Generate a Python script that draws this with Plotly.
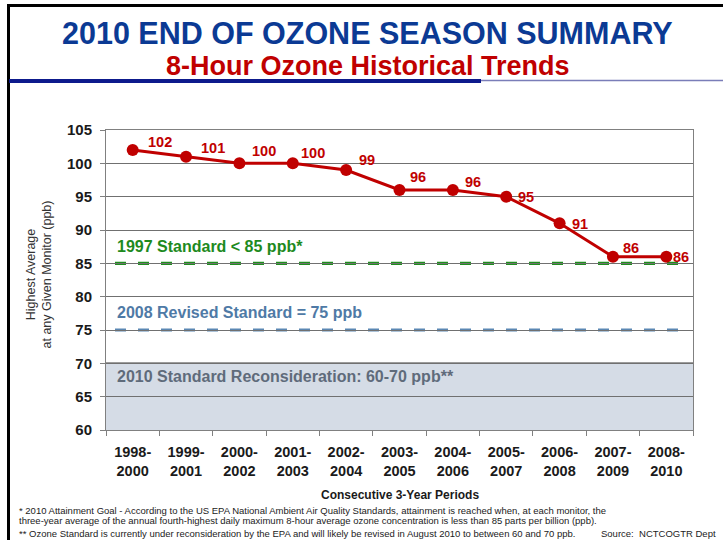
import plotly.graph_objects as go

# ---------------- data ----------------
periods = ["1998-<br>2000", "1999-<br>2001", "2000-<br>2002", "2001-<br>2003", "2002-<br>2004",
           "2003-<br>2005", "2004-<br>2006", "2005-<br>2007", "2006-<br>2008", "2007-<br>2009",
           "2008-<br>2010"]
ozone_ppb = [102, 101, 100, 100, 99, 96, 96, 95, 91, 86, 86]
y_ticks = [60, 65, 70, 75, 80, 85, 90, 95, 100, 105]
std_1997 = 85
std_2008 = 75
reconsider_low = 60
reconsider_high = 70

# ---------------- style / layout ----------------
W, H = 723, 540
L, R, T, B = 106, 30, 130, 110
PW, PH = W - L - R, H - T - B

def px(x):
    return (x - L) / PW

def py(y):
    return (H - B - y) / PH

RED = "#c00000"
FONT = "Liberation Sans, Arial, sans-serif"
NARROW = "Liberation Sans Narrow, Arial Narrow, Liberation Sans, sans-serif"

label_dx = [27, 27, 25, 20, 21, 18, 20, 20, 20, 18, 15]
label_dy = [8, 9, 12, 10, 10, 13, 8, 0, -1, 9, 0]

fig = go.Figure()
fig.add_trace(go.Scatter(
    x=periods, y=ozone_ppb, mode="lines+markers",
    line=dict(color=RED, width=3),
    marker=dict(color=RED, size=12),
    hoverinfo="x+y", showlegend=False,
))

shapes = []
# reconsideration band
shapes.append(dict(type="rect", xref="paper", yref="y", x0=0, x1=1,
                   y0=reconsider_low, y1=reconsider_high,
                   fillcolor="#d5dce6", line=dict(width=0), layer="below"))
shapes.append(dict(type="line", xref="paper", yref="y", x0=0, x1=1,
                   y0=reconsider_high, y1=reconsider_high,
                   line=dict(color="#3a3a3a", width=1.5), layer="between"))
# standards
shapes.append(dict(type="line", xref="paper", yref="y", x0=px(115), x1=px(686),
                   y0=std_1997, y1=std_1997,
                   line=dict(color="#1e8e1e", width=3.2, dash="11px,12px"), layer="between"))
shapes.append(dict(type="line", xref="paper", yref="y", x0=px(115), x1=px(686),
                   y0=std_2008, y1=std_2008,
                   line=dict(color="#5b87b3", width=3.2, dash="11px,12px"), layer="between"))
# slide frame
shapes.append(dict(type="line", xref="paper", yref="paper", x0=px(8), x1=px(724),
                   y0=py(5.5), y1=py(5.5), line=dict(color="black", width=3)))
shapes.append(dict(type="line", xref="paper", yref="paper", x0=px(8.5), x1=px(8.5),
                   y0=py(4), y1=py(541), line=dict(color="black", width=3)))
shapes.append(dict(type="line", xref="paper", yref="paper", x0=px(9), x1=px(481),
                   y0=py(81), y1=py(81), line=dict(color="#0d1a8c", width=4)))
shapes.append(dict(type="line", xref="paper", yref="paper", x0=px(481), x1=px(724),
                   y0=py(80.5), y1=py(80.5), line=dict(color="#7a7db8", width=1.5)))

ann = []
for i, (c, v) in enumerate(zip(periods, ozone_ppb)):
    ann.append(dict(x=c, y=v, xref="x", yref="y", text=str(v), showarrow=False,
                    xanchor="center", yanchor="middle",
                    xshift=label_dx[i], yshift=label_dy[i],
                    font=dict(family=FONT, size=14.5, color=RED, weight="bold")))

def note(x, y, text, font, xanchor="center", **kw):
    return dict(x=px(x), y=py(y), xref="paper", yref="paper", showarrow=False,
                xanchor=xanchor, yanchor="middle", text=text, font=font, **kw)

ann += [
    note(367.5, 32.5, "2010 END OF OZONE SEASON SUMMARY",
         dict(family=FONT, size=30.5, color="#0b3a94", weight="bold")),
    note(367.5, 65.7, "8-Hour Ozone Historical Trends",
         dict(family=FONT, size=27, color="#c00000", weight="bold")),
    dict(x=px(115), y=87.6, xref="paper", yref="y", xanchor="left", yanchor="middle",
         showarrow=False, text="1997 Standard < 85 ppb*",
         font=dict(family=FONT, size=16, color="#1e8a1e", weight="bold")),
    dict(x=px(115), y=77.6, xref="paper", yref="y", xanchor="left", yanchor="middle",
         showarrow=False, text="2008 Revised Standard = 75 ppb",
         font=dict(family=FONT, size=16, color="#4f7aa6", weight="bold")),
    dict(x=px(115), y=68.0, xref="paper", yref="y", xanchor="left", yanchor="middle",
         showarrow=False, text="2010 Standard Reconsideration: 60-70 ppb**",
         font=dict(family=FONT, size=16, color="#5f6b7b", weight="bold")),
    note(38.5, 275, "Highest Average<br>at any Given Monitor (ppb)",
         dict(family=FONT, size=12.5, color="#333333"), textangle=-90),
    note(400, 495, "Consecutive 3-Year Periods",
         dict(family=FONT, size=12, color="#1a1a1a", weight="bold")),
    note(17, 510, "* 2010 Attainment Goal - According to the US EPA National Ambient Air Quality Standards, attainment is reached when, at each monitor, the",
         dict(family=NARROW, size=9.5, color="#222222"), xanchor="left"),
    note(17, 520.5, "three-year average of the annual fourth-highest daily maximum 8-hour average ozone concentration is less than 85 parts per billion (ppb).",
         dict(family=NARROW, size=9.5, color="#222222"), xanchor="left"),
    note(17, 533, "** Ozone Standard is currently under reconsideration by the EPA and will likely be revised in August 2010 to between 60 and 70 ppb.",
         dict(family=NARROW, size=9.5, color="#222222"), xanchor="left"),
    note(718, 533, "Source:  NCTCOGTR Dept",
         dict(family=NARROW, size=9.5, color="#222222"), xanchor="right"),
]

fig.update_layout(
    width=W, height=H, autosize=False,
    margin=dict(l=L, r=R, t=T, b=B),
    paper_bgcolor="white", plot_bgcolor="white",
    shapes=shapes, annotations=ann, showlegend=False,
    font=dict(family=FONT),
)
fig.update_xaxes(
    type="category", range=[-0.5, len(periods) - 0.5],
    showgrid=False, showline=True, linecolor="#808080", linewidth=1, mirror=True,
    ticks="outside", ticklen=5, tickcolor="#808080", tickson="boundaries",
    ticklabelstandoff=9,
    tickfont=dict(family=FONT, size=14.5, color="#1a1a1a", weight="bold"),
)
fig.update_yaxes(
    range=[60, 105], tickvals=y_ticks,
    showgrid=True, gridcolor="#707070", gridwidth=1,
    showline=True, linecolor="#808080", linewidth=1, mirror=True,
    ticks="outside", ticklen=5, tickcolor="#808080",
    ticklabelstandoff=5, zeroline=False,
    tickfont=dict(family=FONT, size=15, color="#1a1a1a", weight="bold"),
)

fig.write_html("out.html", config={"displayModeBar": False},
               post_script="document.body.style.margin='0';")
